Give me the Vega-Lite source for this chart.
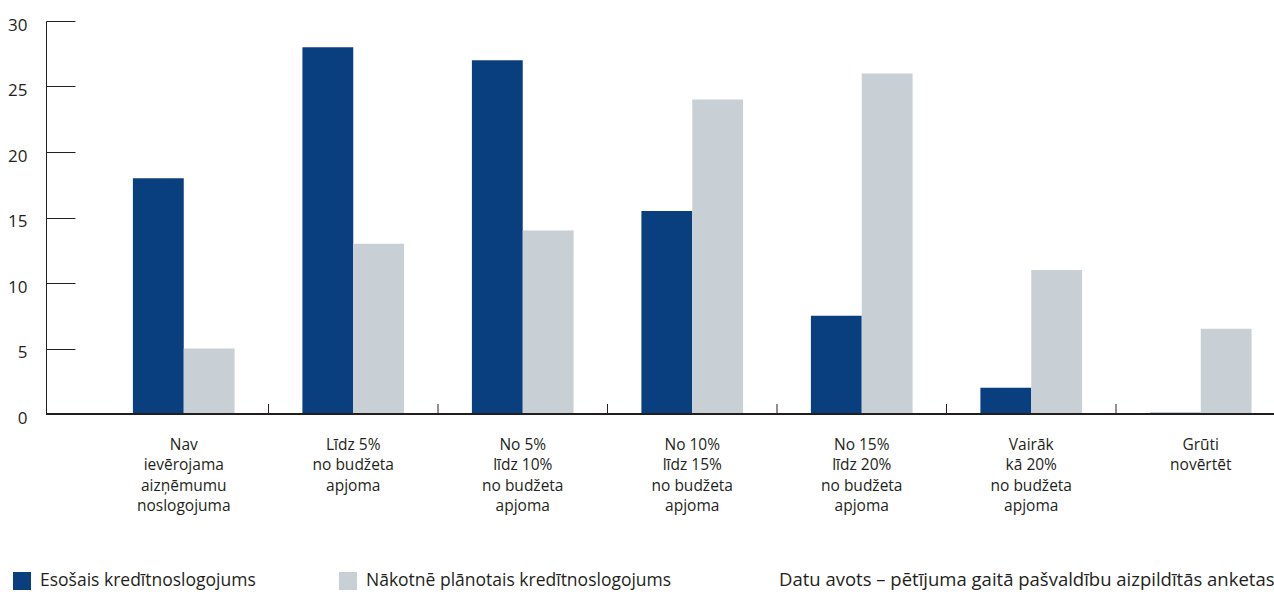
{
  "$schema": "https://vega.github.io/schema/vega-lite/v6.json",
  "width": 1228,
  "height": 393,
  "autosize": {"type": "none"},
  "padding": {"left": 46, "top": 21, "right": 0, "bottom": 180},
  "background": "white",
  "config": {
    "view": {"stroke": null},
    "font": "Open Sans",
    "axis": {"grid": false}
  },
  "title": {
    "text": "Datu avots – pētījuma gaitā pašvaldību aizpildītās anketas",
    "orient": "bottom",
    "anchor": "end",
    "fontSize": 18.5,
    "fontWeight": "normal",
    "color": "#231f20",
    "offset": -19
  },
  "data": {
    "values": [
      {"cat": "Nav|ievērojama|aizņēmumu|noslogojuma", "series": "Esošais kredītnoslogojums", "value": 18},
      {"cat": "Nav|ievērojama|aizņēmumu|noslogojuma", "series": "Nākotnē plānotais kredītnoslogojums", "value": 5},
      {"cat": "Līdz 5%|no budžeta|apjoma", "series": "Esošais kredītnoslogojums", "value": 28},
      {"cat": "Līdz 5%|no budžeta|apjoma", "series": "Nākotnē plānotais kredītnoslogojums", "value": 13},
      {"cat": "No 5%|līdz 10%|no budžeta|apjoma", "series": "Esošais kredītnoslogojums", "value": 27},
      {"cat": "No 5%|līdz 10%|no budžeta|apjoma", "series": "Nākotnē plānotais kredītnoslogojums", "value": 14},
      {"cat": "No 10%|līdz 15%|no budžeta|apjoma", "series": "Esošais kredītnoslogojums", "value": 15.5},
      {"cat": "No 10%|līdz 15%|no budžeta|apjoma", "series": "Nākotnē plānotais kredītnoslogojums", "value": 24},
      {"cat": "No 15%|līdz 20%|no budžeta|apjoma", "series": "Esošais kredītnoslogojums", "value": 7.5},
      {"cat": "No 15%|līdz 20%|no budžeta|apjoma", "series": "Nākotnē plānotais kredītnoslogojums", "value": 26},
      {"cat": "Vairāk|kā 20%|no budžeta|apjoma", "series": "Esošais kredītnoslogojums", "value": 2},
      {"cat": "Vairāk|kā 20%|no budžeta|apjoma", "series": "Nākotnē plānotais kredītnoslogojums", "value": 11},
      {"cat": "Grūti|novērtēt", "series": "Esošais kredītnoslogojums", "value": 0.1},
      {"cat": "Grūti|novērtēt", "series": "Nākotnē plānotais kredītnoslogojums", "value": 6.5}
    ]
  },
  "encoding": {
    "x": {
      "field": "cat",
      "type": "nominal",
      "sort": null,
      "scale": {"range": [53, 1239.5], "paddingInner": 0.4, "paddingOuter": 0.2},
      "axis": {
        "title": null,
        "domain": false,
        "ticks": false,
        "labelAngle": 0,
        "labelExpr": "split(datum.label, '|')",
        "labelFontSize": 15.5,
        "labelLineHeight": 20.5,
        "labelPadding": 23,
        "labelColor": "#231f20",
        "labelLimit": 0
      }
    }
  },
  "layer": [
    {
      "mark": {"type": "bar"},
      "encoding": {
        "xOffset": {"field": "series", "type": "nominal", "sort": null, "scale": {"paddingInner": 0, "paddingOuter": 0}},
        "y": {
          "field": "value",
          "type": "quantitative",
          "scale": {"domain": [0, 30], "nice": false},
          "axis": {
            "title": null,
            "values": [0, 5, 10, 15, 20, 25, 30],
            "domainColor": "#231f20",
            "tickColor": "#231f20",
            "tickSize": -29,
            "labelPadding": 48,
            "labelOffset": 4,
            "labelFontSize": 17,
            "labelColor": "#231f20"
          }
        },
        "color": {
          "field": "series",
          "type": "nominal",
          "sort": null,
          "scale": {"domain": ["Esošais kredītnoslogojums", "Nākotnē plānotais kredītnoslogojums"], "range": ["#0a3f7f", "#c8d0d6"]},
          "legend": {
            "orient": "none",
            "legendX": -33,
            "legendY": 551,
            "direction": "horizontal",
            "title": null,
            "padding": 0,
            "symbolType": "square",
            "symbolSize": 324,
            "symbolStrokeWidth": 0,
            "labelFontSize": 17.5,
            "labelColor": "#231f20",
            "labelOffset": 9,
            "columnPadding": 83,
            "labelLimit": 0
          }
        }
      }
    },
    {
      "mark": {"type": "rule", "color": "#231f20", "strokeWidth": 1},
      "encoding": {"x": null, "y": {"datum": 0}}
    },
    {
      "transform": [
        {"filter": "datum.series == 'Esošais kredītnoslogojums' && datum.cat != 'Nav|ievērojama|aizņēmumu|noslogojuma'"}
      ],
      "mark": {"type": "rule", "color": "#231f20", "strokeWidth": 1},
      "encoding": {
        "x": {"field": "cat", "type": "nominal", "sort": null, "bandPosition": -0.3333},
        "y": {"datum": 0},
        "y2": {"datum": 0.76}
      }
    }
  ]
}
